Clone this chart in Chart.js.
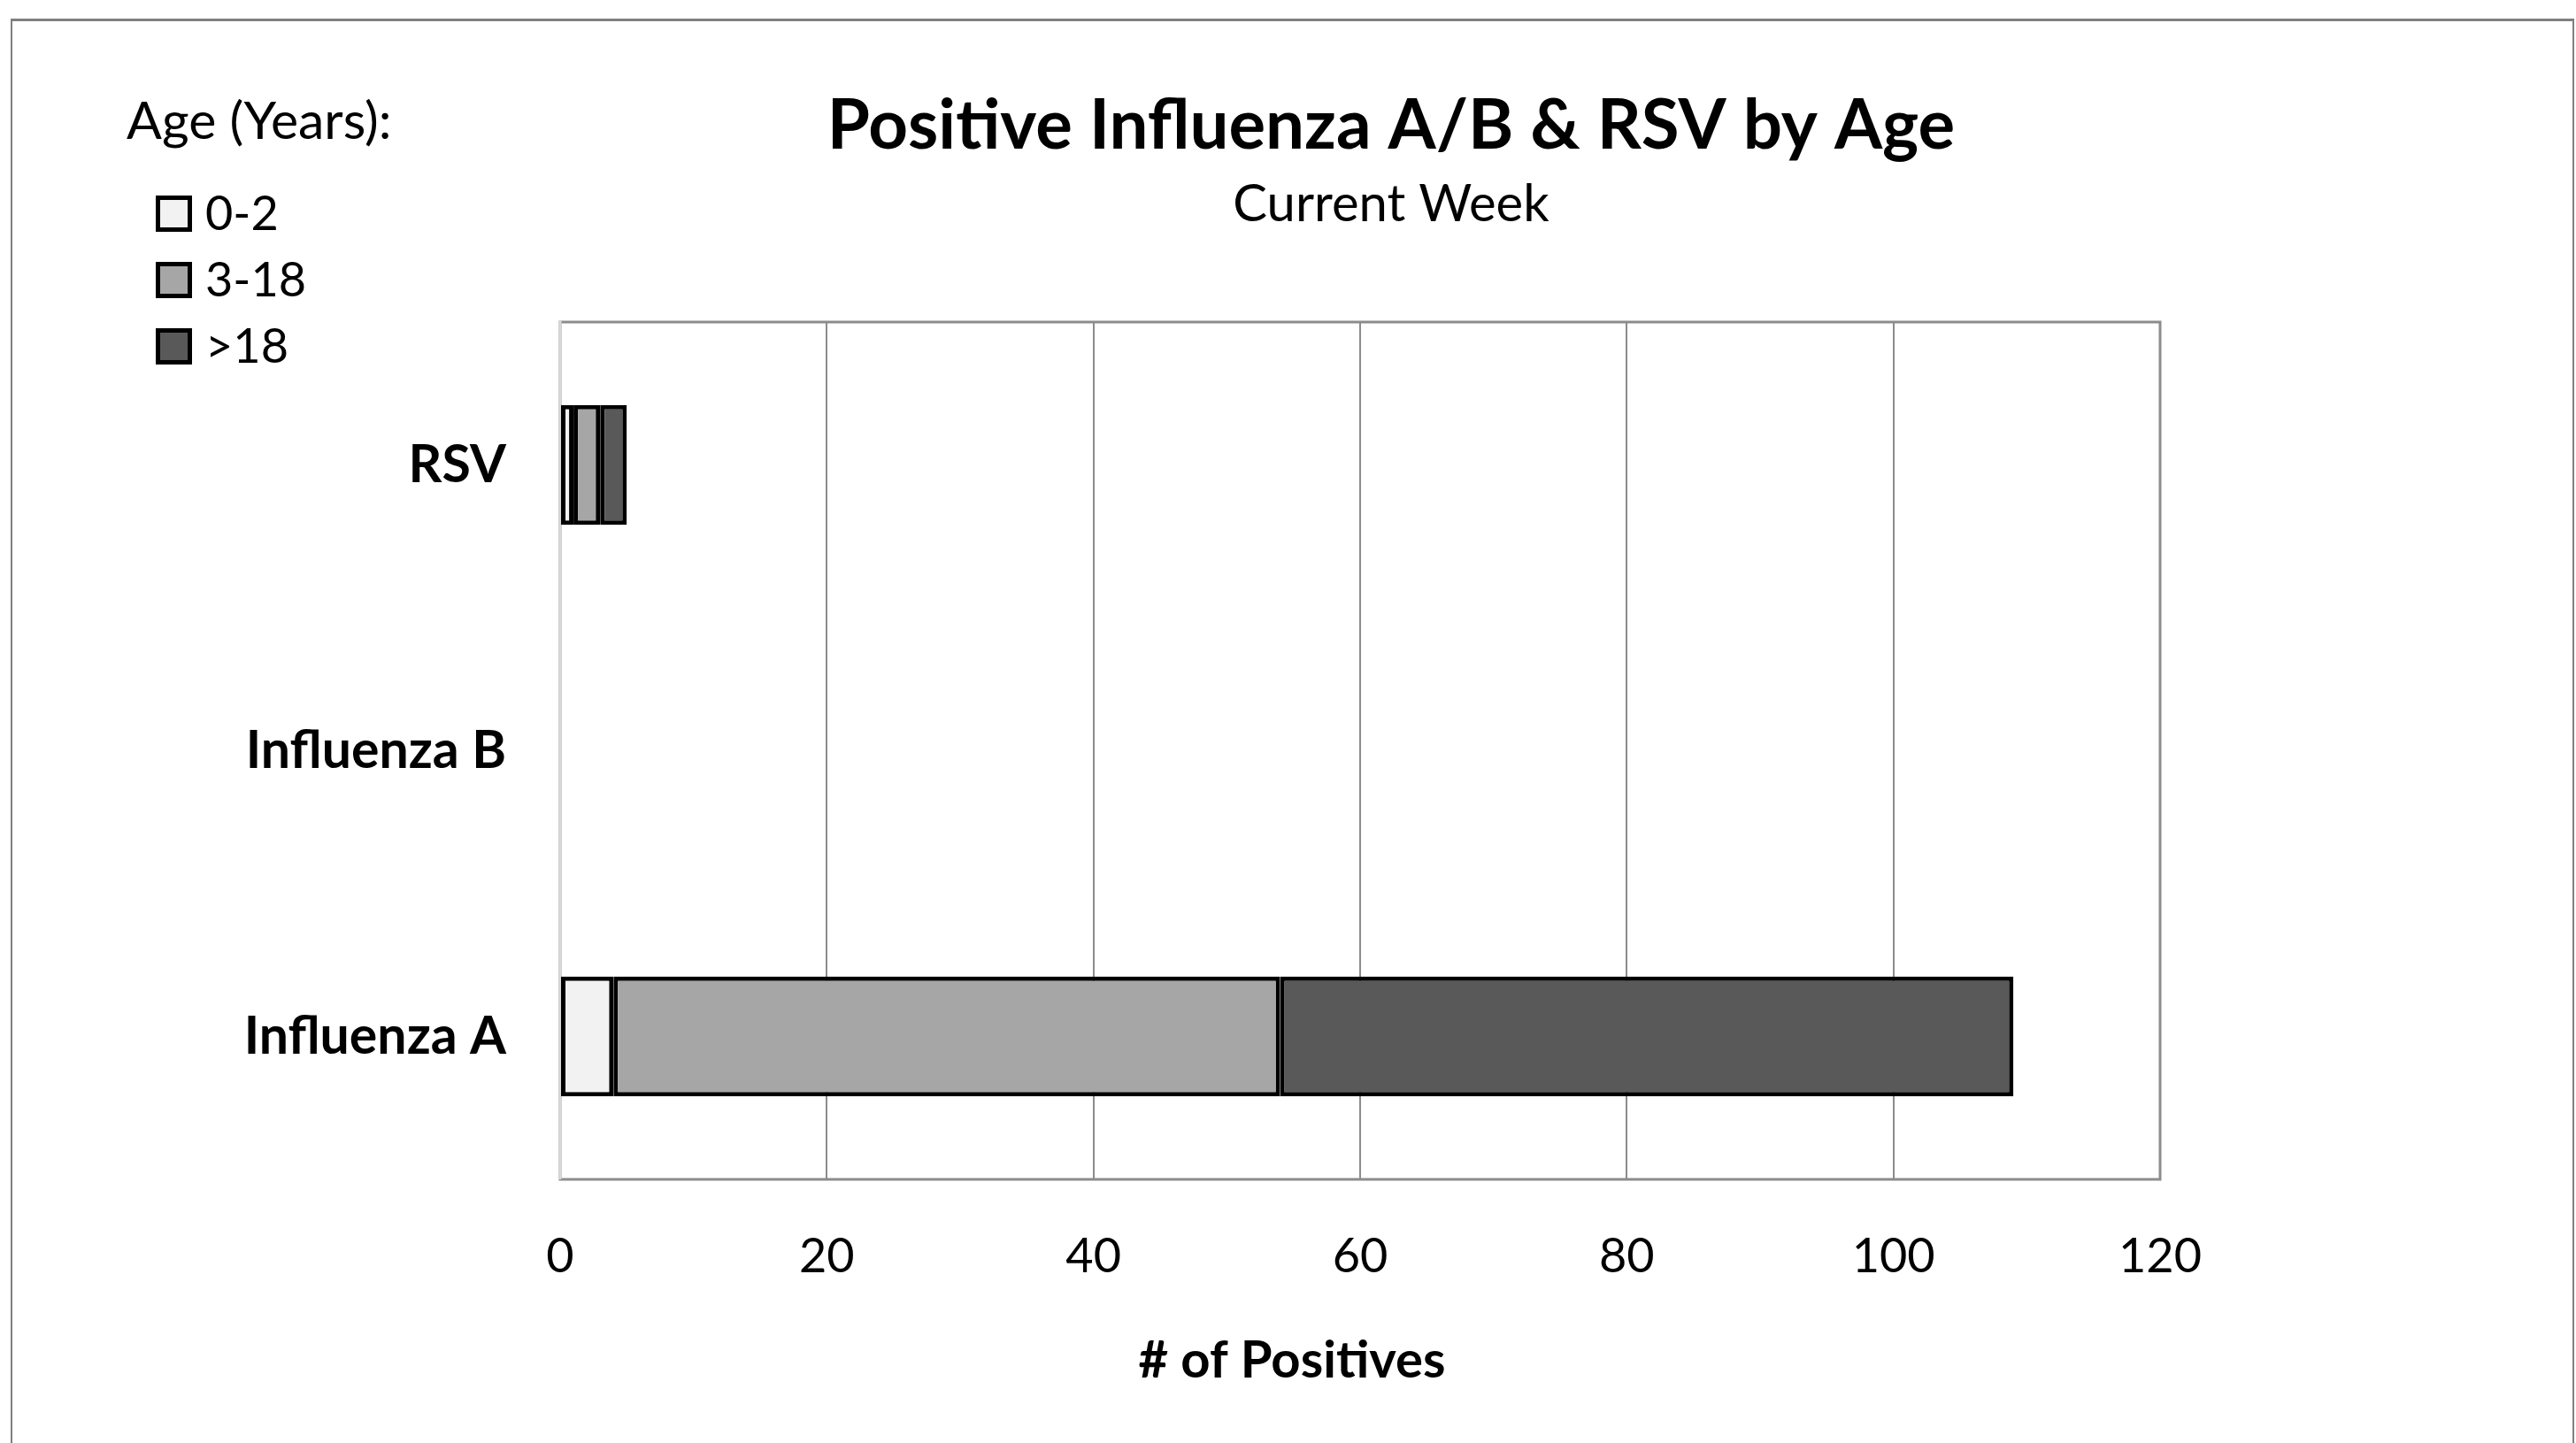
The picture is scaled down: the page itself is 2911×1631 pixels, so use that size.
<!DOCTYPE html>
<html>
<head>
<meta charset="utf-8">
<script src="https://cdn.jsdelivr.net/npm/chart.js@4.4.1/dist/chart.umd.min.js"></script>
<style>
  body { margin: 0; background: #fff; overflow: hidden; }
  #wrap { position: relative; width: 2911px; height: 1631px; }
  #frame { position: absolute; left: 12px; top: 21px; width: 2893px; height: 1700px;
           border-top: 3px solid #808080; border-left: 2px solid #808080; border-right: 2px solid #808080; }
  canvas { position: absolute; left: 0; top: 0; }
</style>
</head>
<body>
<div id="wrap">
  <div id="frame"></div>
  <canvas id="chart" width="2911" height="1631"></canvas>
</div>
<script>
// categories, top to bottom
const categories = ['RSV', 'Influenza B', 'Influenza A'];
const ageGroups = ['0-2', '3-18', '>18'];
const age0to2 = [1, 0, 4];
const age3to18 = [2, 0, 50];
const ageOver18 = [2, 0, 55];
const xTicks = [0, 20, 40, 60, 80, 100, 120];

const titleText = 'Positive Influenza A/B & RSV by Age';
const subtitleText = 'Current Week';
const legendTitle = 'Age (Years):';
const xTitle = '# of Positives';

const fills = ['#f2f2f2', '#a6a6a6', '#595959'];
const FONT = 'Lato';

// header text, legend and plot frame drawn straight on the canvas
const decorations = {
  id: 'decorations',
  beforeDatasetsDraw(chart) {
    const ctx = chart.ctx;
    const a = chart.chartArea;
    ctx.save();
    ctx.lineWidth = 3;
    ctx.strokeStyle = '#8c8c8c';
    ctx.strokeRect(a.left, a.top, a.right - a.left, a.bottom - a.top);
    ctx.strokeStyle = '#d9d9d9';
    ctx.beginPath();
    ctx.moveTo(a.left, a.top - 1.5);
    ctx.lineTo(a.left, a.bottom);
    ctx.stroke();
    ctx.restore();
  },
  afterDraw(chart) {
    const ctx = chart.ctx;
    ctx.save();
    ctx.fillStyle = '#000';
    ctx.textBaseline = 'alphabetic';

    ctx.textAlign = 'center';
    ctx.font = 'bold 78px ' + FONT;
    ctx.fillText(titleText, 1572, 168);
    ctx.font = '58px ' + FONT;
    ctx.fillText(subtitleText, 1572, 250);

    ctx.font = 'bold 58px ' + FONT;
    ctx.fillText(xTitle, 1460, 1557);

    ctx.textAlign = 'left';
    ctx.font = '59px ' + FONT;
    ctx.fillText(legendTitle, 143, 157);
    ctx.font = '54px ' + FONT;
    chart.data.datasets.forEach((ds, i) => {
      const y = 221 + i * 75;
      ctx.fillStyle = ds.backgroundColor;
      ctx.fillRect(178, y + 2, 37, 37);
      ctx.lineWidth = 5;
      ctx.strokeStyle = '#000';
      ctx.strokeRect(178.5, y + 2.5, 36, 36);
      ctx.fillStyle = '#000';
      ctx.fillText(ds.label, 232, y + 39);
    });
    ctx.restore();
  }
};

const datasets = [age0to2, age3to18, ageOver18].map((vals, i) => ({
  label: ageGroups[i],
  data: vals,
  backgroundColor: fills[i],
  borderColor: '#000',
  borderWidth: 5,
  borderSkipped: false,
  categoryPercentage: 1,
  barPercentage: 0.42
}));

new Chart(document.getElementById('chart'), {
  type: 'bar',
  data: { labels: categories, datasets: datasets },
  options: {
    indexAxis: 'y',
    responsive: false,
    animation: false,
    devicePixelRatio: 1,
    layout: { padding: { top: 364, right: 470, left: 0, bottom: 0 } },
    plugins: {
      legend: { display: false },
      title: { display: false },
      tooltip: { enabled: false }
    },
    scales: {
      x: {
        stacked: true,
        min: 0,
        max: 120,
        afterBuildTicks(scale) { scale.ticks = xTicks.map(v => ({ value: v })); },
        afterFit(scale) { scale.height = 298; },
        grid: {
          drawTicks: false,
          lineWidth: 2,
          color: (c) => c.tick && c.tick.value === 0 ? '#d9d9d9' : '#8c8c8c'
        },
        border: { display: false },
        ticks: { color: '#000', padding: 55, font: { family: FONT, size: 54 } }
      },
      y: {
        stacked: true,
        afterFit(scale) { scale.width = 633; },
        grid: { display: false, drawTicks: false },
        border: { display: false },
        ticks: { color: '#000', padding: 61, font: { family: FONT, size: 59, weight: 'bold' } }
      }
    }
  },
  plugins: [decorations]
});
</script>
</body>
</html>
